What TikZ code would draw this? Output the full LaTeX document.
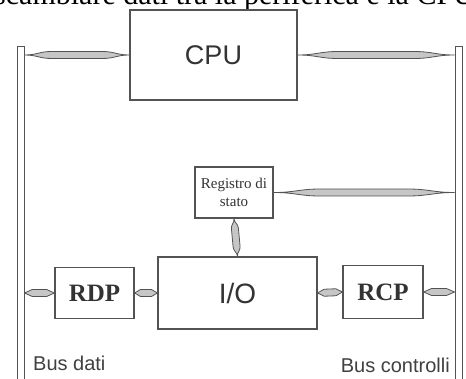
\documentclass[tikz,border=0pt]{standalone}
\usepackage{fontspec}
\setmainfont{Liberation Serif}
\setsansfont{Liberation Sans}
\usetikzlibrary{calc}
\newcommand\lensat[2]{($(\tikztostart)!#1!(\tikztotarget)!#2!90:(\tikztotarget)$)}
\begin{document}
\begin{tikzpicture}[
    x=1pt, y=-1pt,
    box/.style={draw=gray!65!black, line width=1.2pt, fill=white, inner sep=0pt, text=black!80},
    busbar/.style={draw=gray!65!black, line width=1pt, fill=white, minimum width=7pt, minimum height=353pt, inner sep=0pt},
    bus/.style={draw=gray!65!black, fill=gray!45, line width=0.8pt,
      to path={(\tikztostart) .. controls \lensat{0.12}{0pt} and \lensat{0.14}{3.5pt} .. \lensat{0.26}{3.5pt}
        -- \lensat{0.74}{3.5pt} .. controls \lensat{0.86}{3.5pt} and \lensat{0.88}{0pt} .. (\tikztotarget)
        .. controls \lensat{0.88}{0pt} and \lensat{0.86}{-3.5pt} .. \lensat{0.74}{-3.5pt}
        -- \lensat{0.26}{-3.5pt} .. controls \lensat{0.14}{-3.5pt} and \lensat{0.12}{0pt} .. (\tikztostart)}},
    label/.style={font=\sffamily\fontsize{20}{24}\selectfont, text=black!75, inner sep=0pt}
    ]
    \clip (0,0) rectangle (466,379);
    \node[anchor=base west, inner sep=0pt, font=\fontsize{30}{36}\selectfont] (titolo) at (-6,5) {scambiare dati tra la periferica e la CPU};
    % bus
    \node[busbar] (busdati) at (20.5,223.5) {};
    \node[busbar] (buscontrolli) at (458.5,223.5) {};
    % blocchi
    \node[box, minimum width=167pt, minimum height=90pt, font=\sffamily\fontsize{27}{32}\selectfont] (cpu) at (213.5,55) {CPU};
    \node[box, minimum width=78pt, minimum height=51pt, align=center, font=\fontsize{15}{18}\selectfont] (reg) at (234,192.5) {Registro di\\stato};
    \node[box, minimum width=159pt, minimum height=72pt, font=\sffamily\fontsize{28}{32}\selectfont] (io) at (237.5,293) {I/O};
    \node[box, minimum width=79pt, minimum height=51pt, font=\bfseries\fontsize{25}{30}\selectfont] (rdp) at (94.5,293) {RDP};
    \node[box, minimum width=80pt, minimum height=53pt, font=\bfseries\fontsize{25}{30}\selectfont] (rcp) at (383,292) {RCP};
    \node[label, anchor=west] (ldati) at (33,363) {Bus dati};
    \node[label, anchor=east] (lcontrolli) at (450,365) {Bus controlli};
    % collegamenti
    \draw[bus] (busdati.east |- cpu.west) to (cpu.west);
    \draw[bus] (cpu.east) to (buscontrolli.west |- cpu.east);
    \draw[bus] (reg.east) to (buscontrolli.west |- reg.east);
    \draw[bus] (reg.south) to (io.north);
    \draw[bus] (busdati.east |- rdp.west) to (rdp.west);
    \draw[bus] (rdp.east) to (io.west);
    \draw[bus] (io.east) to (rcp.west);
    \draw[bus] (rcp.east) to (buscontrolli.west |- rcp.east);
\end{tikzpicture}
\end{document}
